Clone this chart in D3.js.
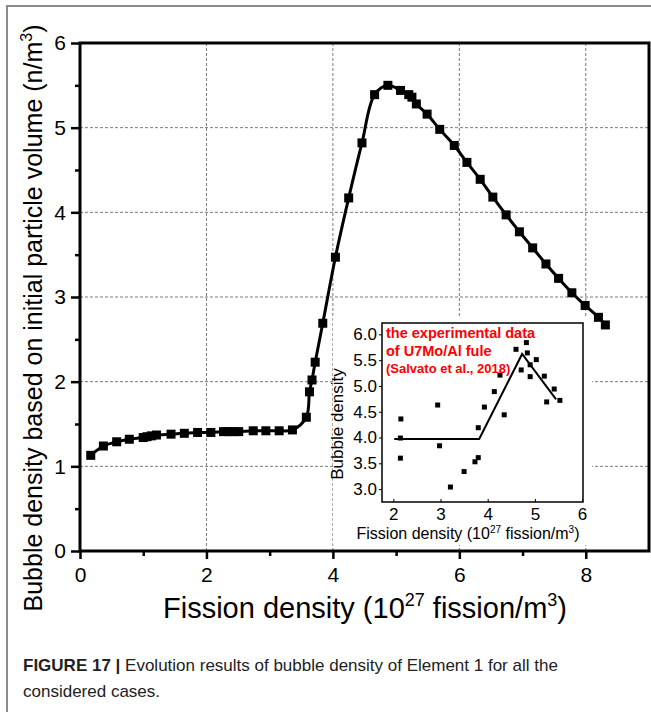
<!DOCTYPE html>
<html>
<head>
  <meta charset="UTF-8">
  <title>Figure 17</title>
  <style>
    body { margin: 0; background: #fff; }
    svg { display: block; font-family: Arial, "Liberation Sans", sans-serif; }
  </style>
</head>
<body>
<svg></svg>
<script src="https://d3js.org/d3.v7.min.js"></script>
<script>

let width = 651, height = 712;

// simulated bubble density (main curve)
let fissionX = [0.17,0.37,0.58,0.78,1.00,1.06,1.13,1.21,1.44,1.65,1.86,2.07,2.27,2.35,2.43,2.51,2.74,2.94,3.15,3.36,
  3.58,3.63,3.67,3.72,3.84,4.04,4.25,4.46,4.66,4.87,5.07,5.20,5.25,5.32,5.49,5.69,5.92,6.12,6.33,6.53,6.74,6.95,
  7.16,7.37,7.57,7.78,7.99,8.20,8.31];
let bubbleY = [1.13,1.24,1.29,1.32,1.34,1.35,1.36,1.37,1.38,1.39,1.40,1.40,1.41,1.41,1.41,1.41,1.42,1.42,1.42,1.43,
  1.58,1.88,2.02,2.23,2.69,3.47,4.17,4.82,5.39,5.50,5.44,5.39,5.36,5.28,5.16,4.98,4.79,4.59,4.39,4.18,3.97,3.77,
  3.58,3.39,3.22,3.05,2.90,2.76,2.67];

// experimental data (inset)
let expX = [2.16,2.15,2.15,2.94,2.98,3.21,3.50,3.73,3.80,3.80,3.93,4.14,4.26,4.35,4.60,4.71,4.82,4.84,4.90,4.90,5.03,5.20,5.25,5.41,5.53];
let expY = [4.36,3.99,3.60,4.63,3.84,3.04,3.34,3.53,3.61,4.19,4.59,4.89,5.21,4.44,5.71,5.31,5.84,5.64,5.41,5.18,5.51,5.19,4.69,4.94,4.72];
let trendX = [2.02,3.82,4.73,5.45];
let trendY = [3.97,3.97,5.62,4.74];

let mainXTicks = [0,2,4,6,8];
let mainYTicks = [0,1,2,3,4,5,6];
let insetXTicks = [2,3,4,5,6];
let insetYTicks = [3.0,3.5,4.0,4.5,5.0,5.5,6.0];
let noteLines = ["the experimental data", "of U7Mo/Al fule", "(Salvato et al., 2018)"];

let svg = d3.select("svg").attr("width", width).attr("height", height);

// outer page frame (top and left edges visible)
svg.append("path").attr("d", "M7,712V6H651").attr("fill", "none").attr("stroke", "#8c8c8c").attr("stroke-width", 2);

let x = d3.scaleLinear().domain([0, 9]).range([80, 649]);
let y = d3.scaleLinear().domain([0, 6]).range([551, 43]);

// grid
let grid = svg.append("g").attr("stroke", "#7a7a7a").attr("stroke-width", 1).attr("stroke-dasharray", "3,2");
grid.selectAll(".gx").data([2,4,6,8]).enter().append("line")
  .attr("x1", d => x(d)).attr("x2", d => x(d)).attr("y1", y(0)).attr("y2", y(6));
grid.selectAll(".gy").data([1,2,3,4,5]).enter().append("line")
  .attr("y1", d => y(d)).attr("y2", d => y(d)).attr("x1", x(0)).attr("x2", x(9));

// inset area hides the grid behind it
svg.append("rect").attr("x", 333).attr("y", 318).attr("width", 259).attr("height", 227).attr("fill", "#fff");

// main axes
let xAxis = d3.axisBottom(x).tickValues(mainXTicks).tickSize(8).tickPadding(8).tickFormat(d3.format("d"));
let xMinor = d3.axisBottom(x).tickValues([1,3,5,7]).tickSize(5).tickFormat("");
let yAxis = d3.axisLeft(y).tickValues(mainYTicks).tickSize(9).tickPadding(5).tickFormat(d3.format("d"));
let yMinor = d3.axisLeft(y).tickValues([0.5,1.5,2.5,3.5,4.5,5.5]).tickSize(5).tickFormat("");

[[xAxis, "translate(0,551)"], [xMinor, "translate(0,551)"], [yAxis, "translate(80,0)"], [yMinor, "translate(80,0)"]].forEach(a => {
  let g = svg.append("g").attr("transform", a[1]).call(a[0]);
  g.select(".domain").remove();
  g.selectAll("line").attr("stroke", "#000").attr("stroke-width", 2.5);
  g.selectAll("text").attr("font-size", 21).attr("fill", "#000").attr("font-family", null);
});

svg.append("rect").attr("x", x(0)).attr("y", y(6)).attr("width", x(9) - x(0)).attr("height", y(0) - y(6))
  .attr("fill", "none").attr("stroke", "#000").attr("stroke-width", 3);

// main curve
let pts = fissionX.map((d, i) => [d, bubbleY[i]]);
let line = d3.line().x(d => x(d[0])).y(d => y(d[1])).curve(d3.curveCatmullRom.alpha(0.5));
svg.append("path").datum(pts).attr("d", line).attr("fill", "none").attr("stroke", "#000").attr("stroke-width", 3);
svg.append("g").selectAll("rect").data(pts).enter().append("rect")
  .attr("x", d => x(d[0]) - 4.5).attr("y", d => y(d[1]) - 4.5)
  .attr("width", 9).attr("height", 9).attr("fill", "#000");

// axis titles
let xt = svg.append("text").attr("x", 365).attr("y", 618).attr("text-anchor", "middle").attr("font-size", 29);
xt.append("tspan").text("Fission density (10");
xt.append("tspan").attr("dy", -12).attr("font-size", 18).text("27");
xt.append("tspan").attr("dy", 12).text(" fission/m");
xt.append("tspan").attr("dy", -12).attr("font-size", 18).text("3");
xt.append("tspan").attr("dy", 12).text(")");

let yt = svg.append("text").attr("transform", "translate(42,318) rotate(-90)").attr("text-anchor", "middle").attr("font-size", 25);
yt.append("tspan").text("Bubble density based on initial particle volume (n/m");
yt.append("tspan").attr("dy", -10).attr("font-size", 16).text("3");
yt.append("tspan").attr("dy", 10).text(")");

// inset
let ix = d3.scaleLinear().domain([1.76, 6.02]).range([382, 583]);
let iy = d3.scaleLinear().domain([2.75, 6.22]).range([502, 323]);

let ixAxis = d3.axisBottom(ix).tickValues(insetXTicks).tickSize(-3).tickPadding(6).tickFormat(d3.format("d"));
let iyAxis = d3.axisLeft(iy).tickValues(insetYTicks).tickSize(3).tickPadding(2).tickFormat(d3.format(".1f"));
[[ixAxis, "translate(0,502)"], [iyAxis, "translate(382,0)"]].forEach(a => {
  let g = svg.append("g").attr("transform", a[1]).call(a[0]);
  g.select(".domain").remove();
  g.selectAll("line").attr("stroke", "#000").attr("stroke-width", 1);
  g.selectAll("text").attr("font-size", 17).attr("fill", "#000").attr("font-family", null);
});
svg.append("rect").attr("x", 382).attr("y", 323).attr("width", 201).attr("height", 179)
  .attr("fill", "none").attr("stroke", "#000").attr("stroke-width", 1.5);

let trend = trendX.map((d, i) => [d, trendY[i]]);
svg.append("path").datum(trend)
  .attr("d", d3.line().x(d => ix(d[0])).y(d => iy(d[1])))
  .attr("fill", "none").attr("stroke", "#000").attr("stroke-width", 2);
svg.append("g").selectAll("rect").data(expX.map((d, i) => [d, expY[i]])).enter().append("rect")
  .attr("x", d => ix(d[0]) - 2.5).attr("y", d => iy(d[1]) - 2.5)
  .attr("width", 5).attr("height", 5).attr("fill", "#000");

let ixt = svg.append("text").attr("x", 468).attr("y", 539).attr("text-anchor", "middle").attr("font-size", 16);
ixt.append("tspan").text("Fission density (10");
ixt.append("tspan").attr("dy", -6).attr("font-size", 10).text("27");
ixt.append("tspan").attr("dy", 6).text(" fission/m");
ixt.append("tspan").attr("dy", -6).attr("font-size", 10).text("3");
ixt.append("tspan").attr("dy", 6).text(")");

svg.append("text").attr("transform", "translate(343,424) rotate(-90)").attr("text-anchor", "middle")
  .attr("font-size", 17).text("Bubble density");

svg.append("g").selectAll("text").data(noteLines).enter().append("text")
  .attr("x", 386).attr("y", (d, i) => 338 + i * 17.5)
  .attr("font-size", (d, i) => i < 2 ? 14.5 : 13).attr("font-weight", "bold").attr("fill", "#ff0000")
  .text(d => d);

// caption
let cap = svg.append("text").attr("x", 23).attr("y", 671).attr("font-size", 17).attr("fill", "#222");
cap.append("tspan").attr("font-weight", "bold").text("FIGURE 17 | ");
cap.append("tspan").text("Evolution results of bubble density of Element 1 for all the");
svg.append("text").attr("x", 23).attr("y", 697).attr("font-size", 17).attr("fill", "#222").text("considered cases.");

</script>
</body>
</html>
